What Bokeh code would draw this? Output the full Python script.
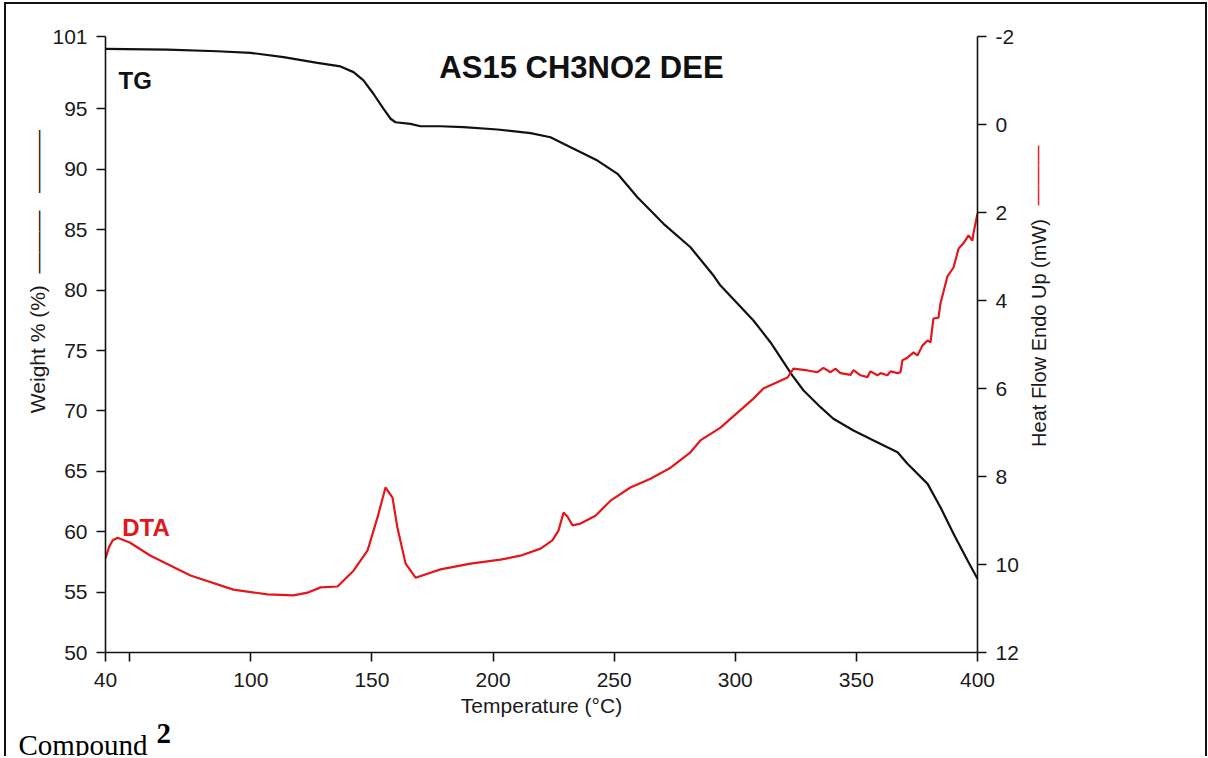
from math import pi
from bokeh.plotting import figure
from bokeh.models import Range1d, LinearAxis, FixedTicker, Label, Title
from bokeh.embed import file_html
from bokeh.resources import INLINE

# ---- data ----
tg_temp = [40, 65.6, 86.2, 99.9, 113.5, 127.5, 137.0, 142.4, 146.5, 150.6, 154.8, 157.7,
           159.7, 165.9, 170.1, 178.3, 187.8, 201.8, 215.5, 223.7, 232.0, 243.1, 251.4,
           259.6, 270.4, 281.5, 291.0, 293.9, 307.5, 314.5, 323.6, 328.2, 335.2, 340.5,
           348.8, 357.1, 367.0, 371.1, 379.4, 384.7, 390.1, 395.9, 400]
tg_weight = [99.98, 99.92, 99.78, 99.65, 99.29, 98.82, 98.52, 98.05, 97.36, 96.26, 95.01,
             94.19, 93.90, 93.77, 93.57, 93.57, 93.49, 93.30, 93.0, 92.66, 91.83, 90.73,
             89.63, 87.69, 85.49, 83.55, 81.21, 80.38, 77.49, 75.69, 72.93, 71.69, 70.31,
             69.35, 68.38, 67.55, 66.58, 65.62, 63.96, 62.03, 59.83, 57.62, 56.1]

dta_temp = [40, 41.5, 43, 45.0, 50, 58.6, 75.1, 92.8, 106.9, 117.6, 123.4, 128.8, 135.8,
            142.4, 148.2, 152.3, 155.6, 158.5, 160.5, 163.9, 168.0, 178.3, 190.7, 203.1,
            211.3, 219.6, 224.5, 227.0, 229.1, 230.7, 232.8, 236.1, 242.3, 248.5, 256.7,
            265.0, 273.3, 281.5, 285.6, 293.9, 307.5, 311.6, 321.6, 324.0, 329.8, 333.9,
            336.4, 339.3, 341.4, 343.4, 347.6, 348.8, 351.7, 354.6, 355.8, 358.7, 360.0,
            362.8, 364.1, 367.0, 368.2, 369.0, 371.1, 373.6, 375.2, 377.3, 379.4, 380.6,
            381.8, 383.9, 384.7, 387.6, 390.1, 392.2, 394.2, 396.3, 397.9, 398.3, 400]
dta_heat = [9.86, 9.60, 9.45, 9.39, 9.50, 9.80, 10.25, 10.57, 10.68, 10.70, 10.64, 10.52,
            10.50, 10.14, 9.68, 8.93, 8.25, 8.48, 9.16, 9.98, 10.30, 10.11, 9.98, 9.89,
            9.80, 9.64, 9.45, 9.23, 8.82, 8.91, 9.11, 9.07, 8.89, 8.55, 8.25, 8.05, 7.80,
            7.45, 7.18, 6.89, 6.23, 6.00, 5.75, 5.55, 5.59, 5.63, 5.53, 5.63, 5.55, 5.65,
            5.69, 5.58, 5.70, 5.74, 5.61, 5.70, 5.65, 5.70, 5.61, 5.65, 5.63, 5.36, 5.30,
            5.18, 5.25, 5.02, 4.91, 4.95, 4.41, 4.39, 4.07, 3.45, 3.25, 2.82, 2.70, 2.52,
            2.64, 2.48, 2.02]

x_ticks = [40, 50, 100, 150, 200, 250, 300, 350, 400]
left_ticks = [50, 55, 60, 65, 70, 75, 80, 85, 90, 95, 101]
right_ticks = [-2, 0, 2, 4, 6, 8, 10, 12]

FONT = "Liberation Sans"
TXT = "#1a1a1a"
RED = "#e3171b"
NB = "\u00a0"
DASH3 = "\u2014\u2014\u2014"

p = figure(width=1203, height=754,
           x_range=Range1d(40, 400), y_range=Range1d(50, 101),
           output_backend="svg", toolbar_location=None,
           min_border_left=99, min_border_right=232,
           min_border_top=32, min_border_bottom=106,
           styles={"margin-left": "4px", "margin-top": "2px",
                   "border-top": "2px solid #111", "border-left": "2px solid #111",
                   "border-right": "2px solid #111"})
p.extra_y_ranges = {"dta": Range1d(12, -2)}
p.grid.visible = False
p.outline_line_color = None
p.background_fill_color = "white"
p.border_fill_color = "white"

# x axis
xa = p.xaxis[0]
xa.ticker = FixedTicker(ticks=x_ticks)
xa.major_label_overrides = {50: ""}
xa.axis_label = "Temperature (°C)"
xa.axis_label_text_font = FONT
xa.axis_label_text_font_size = "21px"
xa.axis_label_text_font_style = "normal"
xa.axis_label_text_color = TXT
xa.axis_label_standoff = 4

# left axis (label carries its black line key)
ya = p.yaxis[0]
ya.ticker = FixedTicker(ticks=left_ticks)
ya.axis_label = NB * 25 + "Weight % (%)" + NB * 2 + DASH3 + NB * 3 + DASH3
ya.axis_label_text_font = FONT
ya.axis_label_text_font_size = "21px"
ya.axis_label_text_font_style = "normal"
ya.axis_label_text_color = TXT
ya.axis_label_standoff = 0

# right axis (ticks only)
ra = LinearAxis(y_range_name="dta", ticker=FixedTicker(ticks=right_ticks))
ra.major_label_overrides = {-2: "-2"}
p.add_layout(ra, "right")


def title_axis(text, color, standoff):
    ax = LinearAxis(y_range_name="dta", ticker=FixedTicker(ticks=[]))
    ax.axis_line_color = None
    ax.major_tick_line_color = None
    ax.minor_tick_line_color = None
    ax.major_label_text_font_size = "0px"
    ax.axis_label = text
    ax.axis_label_text_font = FONT
    ax.axis_label_text_font_size = "20px"
    ax.axis_label_text_font_style = "normal"
    ax.axis_label_text_color = color
    ax.axis_label_standoff = standoff
    try:
        ax.axis_label_orientation = pi / 2
    except Exception:
        pass
    return ax


# right axis title (black) and its red line key, in the same column
kb = title_axis("Heat Flow Endo Up (mW)", TXT, 17)
try:
    kb.axis_label_align = "end"
    kb.axis_label = NB * 37 + "Heat Flow Endo Up (mW)"
except Exception:
    pass
ka = title_axis(NB * 25 + DASH3, RED, -27)
p.add_layout(kb, "right")
p.add_layout(ka, "right")

for ax in (xa, ya, ra):
    ax.major_tick_out = 9
    ax.major_tick_in = 0
    ax.minor_tick_line_color = None
    ax.axis_line_width = 1.6
    ax.axis_line_color = "#111"
    ax.major_tick_line_width = 1.6
    ax.major_tick_line_color = "#111"
    ax.major_label_text_font = FONT
    ax.major_label_text_font_size = "21px"
    ax.major_label_text_color = TXT
    ax.major_label_standoff = 9
xa.major_label_standoff = 11

# curves
p.line(tg_temp, tg_weight, line_color="#111111", line_width=2.2)
p.line(dta_temp, dta_heat, line_color=RED, line_width=2.2, y_range_name="dta")

# texts inside the chart
p.add_layout(Label(x=236.5, y=98.45, text="AS15 CH3NO2 DEE", text_align="center",
                   text_baseline="alphabetic", text_font=FONT, text_font_size="31px",
                   text_font_style="bold", text_color="#111"))
p.add_layout(Label(x=45.4, y=97.35, text="TG", text_align="left",
                   text_baseline="alphabetic", text_font=FONT, text_font_size="24px",
                   text_font_style="bold", text_color="#111"))
p.add_layout(Label(x=46.9, y=60.37, text="DTA", text_align="left",
                   text_baseline="alphabetic", text_font=FONT, text_font_size="24px",
                   text_font_style="bold", text_color=RED))

# caption below the chart
spacer = Title(text=NB, text_font_size="2px", standoff=25)
cap1 = Title(text="Compound", align="left", offset=-87, vertical_align="top", standoff=-40,
             text_font="Liberation Serif", text_font_size="29px", text_font_style="normal",
             text_color="#000")
cap2 = Title(text="2", align="left", offset=51, vertical_align="top", standoff=-50,
             text_font="Liberation Serif", text_font_size="29px", text_font_style="bold",
             text_color="#000")
p.add_layout(spacer, "below")
p.add_layout(cap1, "below")
p.add_layout(cap2, "below")

open("out.html", "w").write(file_html(p, INLINE))
